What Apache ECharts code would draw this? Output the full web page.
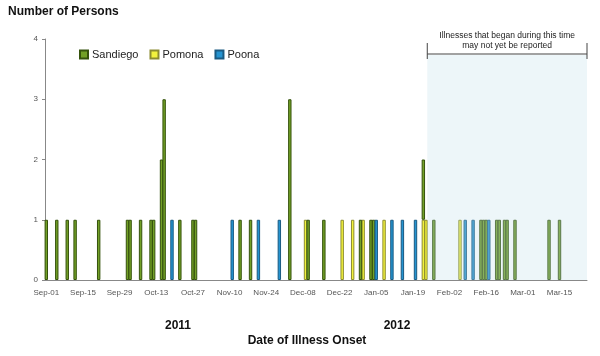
<!DOCTYPE html>
<html><head><meta charset="utf-8">
<script src="https://cdn.jsdelivr.net/npm/echarts@6/dist/echarts.min.js"></script>
<style>html,body{margin:0;padding:0;background:#fff}#c{width:600px;height:356px}</style>
</head><body><div id="c"></div>
<script>
// ---- data ----
const monthNames = ['Sep','Oct','Nov','Dec','Jan','Feb','Mar'];
const monthDays = [30, 31, 30, 31, 31, 29, 25];
const tickLabels = ['Sep-01','Sep-15','Sep-29','Oct-13','Oct-27','Nov-10','Nov-24','Dec-08','Dec-22','Jan-05','Jan-19','Feb-02','Feb-16','Mar-01','Mar-15'];
const yTicks = [0, 1, 2, 3, 4];
const yearLabels = ['2011', '2012'];
const seriesNames = ['Sandiego', 'Pomona', 'Poona'];
const sandiego = [
  ['Sep-01',1],['Sep-05',1],['Sep-09',1],['Sep-12',1],['Sep-21',1],
  ['Oct-02',1],['Oct-03',1],['Oct-07',1],['Oct-11',1],['Oct-12',1],
  ['Oct-15',2],['Oct-16',3],['Oct-22',1],['Oct-27',1],['Oct-28',1],
  ['Nov-14',1],['Nov-18',1],['Dec-03',3],['Dec-10',1],['Dec-16',1],
  ['Dec-30',1],['Jan-03',1],['Jan-04',1],['Jan-23',1],['Jan-27',1],
  ['Feb-14',1],['Feb-15',1],['Feb-16',1],['Feb-20',1],['Feb-21',1],
  ['Feb-23',1],['Feb-24',1],['Feb-27',1],['Mar-11',1],['Mar-15',1]
];
const pomona = [
  ['Dec-09',1],['Dec-23',1],['Dec-27',1],['Dec-31',1],['Jan-08',1],
  ['Jan-23',1],['Jan-24',1],['Feb-06',1]
];
const poona = [
  ['Oct-19',1],['Nov-11',1],['Nov-21',1],['Nov-29',1],['Jan-05',1],
  ['Jan-11',1],['Jan-15',1],['Jan-20',1],['Feb-08',1],['Feb-11',1],['Feb-17',1]
];
const lagStart = 'Jan-25';
const lagText = ['Illnesses that began during this time', 'may not yet be reported'];

// ---- build ----
const categories = [];
monthNames.forEach((m, i) => {
  for (let d = 1; d <= monthDays[i]; d++) categories.push(m + '-' + String(d).padStart(2, '0'));
});
function toSeries(list) {
  const map = {};
  list.forEach(([k, v]) => { map[k] = v; });
  return categories.map(c => (c in map ? map[c] : null));
}
const GRID = { left: 45, right: 13, top: 39, bottom: 76 };
const FONT = 'Liberation Sans';

const chart = echarts.init(document.getElementById('c'), null, { renderer: 'canvas' });
const styles = {
  Sandiego: { color: '#72a026', borderColor: '#35520c' },
  Pomona: { color: '#f2f23c', borderColor: '#8c8c30' },
  Poona: { color: '#2493d0', borderColor: '#1a5a82' }
};
const dataBy = { Sandiego: sandiego, Pomona: pomona, Poona: poona };
const order = ['Pomona', 'Sandiego', 'Poona'];

chart.setOption({
  animation: false,
  grid: GRID,
  legend: {
    data: seriesNames.map(n => ({ name: n, icon: 'rect' })),
    left: 79, top: 49, padding: 0, itemWidth: 8, itemHeight: 8, itemGap: 11,
    textStyle: { fontFamily: FONT, fontSize: 11, color: '#222', padding: [0, 0, 0, -1] }
  },
  xAxis: {
    type: 'category', data: categories, boundaryGap: true,
    axisLine: { lineStyle: { color: '#888', width: 1 } },
    axisTick: { interval: 13, length: 3, lineStyle: { color: '#888' } },
    axisLabel: {
      interval: 13, fontSize: 8, color: '#555', fontFamily: FONT, margin: 9,
      formatter: v => (tickLabels.indexOf(v) >= 0 ? v : '')
    }
  },
  yAxis: {
    type: 'value', min: yTicks[0], max: yTicks[yTicks.length - 1], interval: 1,
    splitLine: { show: false },
    axisLine: { show: true, lineStyle: { color: '#888' } },
    axisTick: { show: true, length: 3, lineStyle: { color: '#888' } },
    axisLabel: { fontSize: 8, color: '#555', fontFamily: FONT, margin: 7 }
  },
  series: order.map(n => ({
    name: n, type: 'bar', stack: 'total', barWidth: 3.4,
    data: toSeries(dataBy[n]),
    itemStyle: { color: styles[n].color, borderColor: styles[n].borderColor, borderWidth: 1 }
  }))
});

const slot = (600 - GRID.left - GRID.right) / categories.length;
const x1 = chart.convertToPixel({ xAxisIndex: 0 }, lagStart) - slot / 2;
const x2 = 600 - GRID.right;
const y0 = chart.convertToPixel({ yAxisIndex: 0 }, 0);
const bracketY = 54;
const cx = (x1 + x2) / 2;

chart.setOption({
  graphic: [
    { type: 'rect', z: 100, silent: true, shape: { x: x1, y: bracketY + 1, width: x2 - x1, height: y0 - bracketY - 1 },
      style: { fill: 'rgba(190,222,235,0.28)' } },
    { type: 'line', z: 101, shape: { x1: x1, y1: bracketY, x2: x2, y2: bracketY }, style: { stroke: '#444', lineWidth: 1 } },
    { type: 'line', z: 101, shape: { x1: x1, y1: 43, x2: x1, y2: 59 }, style: { stroke: '#444', lineWidth: 1 } },
    { type: 'line', z: 101, shape: { x1: x2, y1: 43, x2: x2, y2: 59 }, style: { stroke: '#444', lineWidth: 1 } },
    { type: 'text', z: 101, x: cx, y: 36, style: { text: lagText[0], fontSize: 8.5, fontFamily: FONT, fill: '#222', textAlign: 'center', textVerticalAlign: 'middle' } },
    { type: 'text', z: 101, x: cx, y: 46, style: { text: lagText[1], fontSize: 8.5, fontFamily: FONT, fill: '#222', textAlign: 'center', textVerticalAlign: 'middle' } },
    { type: 'text', x: 8, y: 12, style: { text: 'Number of Persons', fontSize: 12, fontWeight: 'bold', fontFamily: FONT, fill: '#111', textVerticalAlign: 'middle' } },
    { type: 'text', x: 178, y: 326, style: { text: yearLabels[0], fontSize: 12, fontWeight: 'bold', fontFamily: FONT, fill: '#111', textAlign: 'center', textVerticalAlign: 'middle' } },
    { type: 'text', x: 397, y: 326, style: { text: yearLabels[1], fontSize: 12, fontWeight: 'bold', fontFamily: FONT, fill: '#111', textAlign: 'center', textVerticalAlign: 'middle' } },
    { type: 'text', x: 307, y: 341, style: { text: 'Date of Illness Onset', fontSize: 12, fontWeight: 'bold', fontFamily: FONT, fill: '#111', textAlign: 'center', textVerticalAlign: 'middle' } }
  ]
});
</script>
</body></html>
